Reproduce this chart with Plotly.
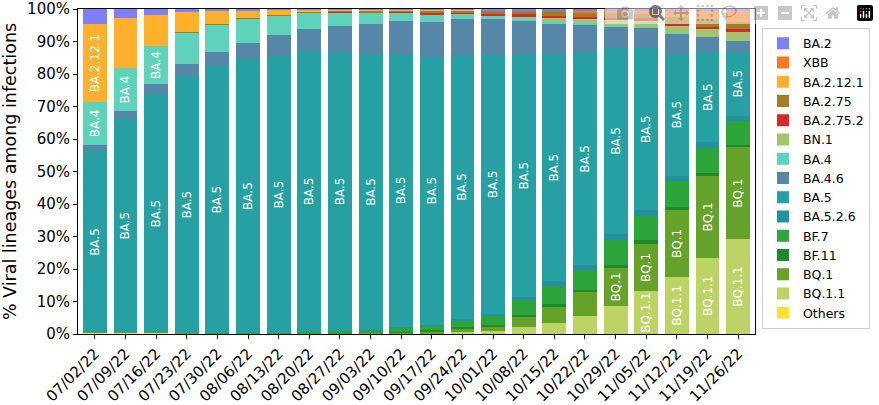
import plotly.graph_objects as go

dates = ["07/02/22", "07/09/22", "07/16/22", "07/23/22", "07/30/22", "08/06/22",
         "08/13/22", "08/20/22", "08/27/22", "09/03/22", "09/10/22", "09/17/22",
         "09/24/22", "10/01/22", "10/08/22", "10/15/22", "10/22/22", "10/29/22",
         "11/05/22", "11/12/22", "11/19/22", "11/26/22"]

pct_ticks = [0, 10, 20, 30, 40, 50, 60, 70, 80, 90, 100]
pct_labels = ["0%", "10%", "20%", "30%", "40%", "50%", "60%", "70%", "80%", "90%", "100%"]

# shares in % per week
ba_2      = [4.7, 2.7, 1.7, 1.0, 0.6, 0.4, 0.3, 0.1, 0.1, 0.1, 0.1, 0.1, 0.1, 0.4, 0.4, 0.4, 0.4, 0.4, 0.4, 0.6, 0.6, 0.4]
xbb       = [0, 0, 0, 0, 0, 0, 0, 0, 0, 0, 0, 0, 0, 0, 0, 0.2, 0.6, 0.8, 1.2, 1.9, 2.5, 3.5]
ba_2_12_1 = [23.9, 15.5, 9.7, 6.0, 4.0, 2.5, 1.4, 0.8, 0.5, 0.5, 0.3, 0.4, 0.3, 0.1, 0, 0, 0, 0, 0, 0, 0, 0]
ba_2_75   = [0, 0, 0, 0.1, 0.1, 0.1, 0.2, 0.2, 0.3, 0.4, 0.5, 0.8, 0.9, 1.1, 1.2, 1.6, 1.5, 1.5, 1.3, 2.1, 2.4, 2.2]
ba_2_75_2 = [0, 0, 0, 0, 0, 0, 0, 0.1, 0.1, 0.1, 0.3, 0.3, 0.2, 0.3, 0.6, 0.7, 0.5, 0.6, 0.6, 0.5, 0.6, 0.9]
bn_1      = [0, 0, 0, 0, 0, 0, 0, 0, 0, 0, 0, 0, 0, 0.2, 0.7, 1.2, 1.3, 1.8, 2.0, 2.3, 2.6, 2.8]
ba_4      = [13.2, 13.2, 11.7, 9.9, 8.5, 7.5, 6.2, 4.9, 4.3, 3.6, 2.4, 2.3, 1.5, 1.0, 0.6, 0.5, 0.4, 0.4, 0.3, 0.1, 0, 0]
ba_4_6    = [1.8, 2.2, 3.1, 3.6, 4.3, 4.8, 6.4, 6.9, 7.9, 9.1, 10.3, 10.8, 11.0, 10.9, 10.4, 9.2, 8.6, 6.4, 6.3, 6.2, 4.6, 3.3]
ba_5      = [56.2, 66.2, 73.6, 79.2, 82.3, 84.5, 85.2, 86.3, 85.9, 85.0, 83.9, 82.4, 81.5, 79.9, 74.8, 70.0, 65.6, 57.4, 49.7, 37.6, 27.7, 19.7]
ba_5_2_6  = [0, 0, 0, 0, 0, 0, 0, 0, 0, 0.1, 0.2, 0.2, 0.4, 0.4, 0.7, 1.3, 1.5, 1.9, 2.0, 1.5, 1.8, 1.8]
bf_7      = [0, 0, 0, 0, 0.1, 0.1, 0.2, 0.4, 0.6, 0.8, 1.4, 1.6, 2.0, 2.9, 4.6, 5.8, 6.0, 7.7, 7.4, 8.1, 7.6, 7.2]
bf_11     = [0, 0, 0, 0, 0, 0, 0, 0, 0, 0, 0.1, 0.2, 0.5, 0.6, 0.5, 0.6, 0.8, 0.8, 1.0, 1.0, 1.0, 0.8]
bq_1      = [0, 0, 0, 0.1, 0, 0, 0, 0.2, 0.2, 0.2, 0.3, 0.6, 1.0, 1.4, 3.4, 5.0, 7.2, 11.6, 14.7, 20.5, 25.1, 28.2]
bq_1_1    = [0, 0, 0, 0, 0, 0, 0, 0, 0.1, 0.1, 0.2, 0.3, 0.6, 0.8, 2.0, 3.4, 5.5, 8.6, 13.0, 17.6, 23.5, 29.2]
others    = [0.2, 0.2, 0.2, 0.1, 0.1, 0.1, 0.1, 0.1, 0, 0, 0, 0, 0, 0, 0.1, 0.1, 0.1, 0.1, 0.1, 0, 0, 0]

# bottom of the stack first
series = [
    ("Others", others, "#FFE135"),
    ("BQ.1.1", bq_1_1, "#BCD465"),
    ("BQ.1", bq_1, "#64A22A"),
    ("BF.11", bf_11, "#1F8A2C"),
    ("BF.7", bf_7, "#2CA53B"),
    ("BA.5.2.6", ba_5_2_6, "#2590A2"),
    ("BA.5", ba_5, "#26A0A3"),
    ("BA.4.6", ba_4_6, "#5787A8"),
    ("BA.4", ba_4, "#5ED3BA"),
    ("BN.1", bn_1, "#A2C46F"),
    ("BA.2.75.2", ba_2_75_2, "#D62A2A"),
    ("BA.2.75", ba_2_75, "#A57C26"),
    ("BA.2.12.1", ba_2_12_1, "#FFB12E"),
    ("XBB", xbb, "#FF7A1C"),
    ("BA.2", ba_2, "#7F7FF7"),
]

FONT = "DejaVu Sans"


def label_for(name, v):
    # only write the name when the segment is tall enough to hold it
    if v >= 10 and v * 3.25 > len(name) * 6.5:
        return name
    return ""


fig = go.Figure()
n = len(series)
for i, (name, vals, col) in enumerate(series):
    fig.add_trace(go.Bar(
        x=dates, y=vals, name=name,
        legendrank=n - i,
        marker=dict(color=col, line=dict(width=0)),
        text=[label_for(name, v) for v in vals],
        textposition="inside", insidetextanchor="middle", textangle=-90,
        textfont=dict(color="white", size=12, family=FONT),
    ))

fig.update_layout(
    barmode="stack",
    bargap=0.22,
    width=879, height=405,
    margin=dict(l=78, r=122, t=9, b=70.7),
    plot_bgcolor="white", paper_bgcolor="white",
    font=dict(family=FONT, color="black"),
    uniformtext=dict(minsize=12, mode="show"),
    legend=dict(
        x=1.0103, y=0.943, xanchor="left", yanchor="top",
        traceorder="normal", tracegroupgap=0, itemwidth=30,
        font=dict(size=12.5, family=FONT),
        bordercolor="#cccccc", borderwidth=1, bgcolor="white",
    ),
    xaxis=dict(
        range=[-0.55, 21.55], tickangle=-45, automargin=False,
        showline=True, mirror=True, linecolor="black", linewidth=1,
        ticks="outside", ticklen=4, tickcolor="black",
        tickfont=dict(size=15, family=FONT),
    ),
    yaxis=dict(
        range=[0, 100], tickvals=pct_ticks, ticktext=pct_labels,
        showgrid=False, zeroline=False, automargin=False,
        showline=True, mirror=True, linecolor="black", linewidth=1,
        ticks="outside", ticklen=4, tickcolor="black",
        tickfont=dict(size=15, family=FONT),
        title=dict(text="% Viral lineages among infections", font=dict(size=17.5, family=FONT), standoff=12),
    ),
)

# drop the browser's default 8px body margin so the figure sits at the page corner
fig.write_html("out.html", post_script="document.body.style.margin = '0';")
